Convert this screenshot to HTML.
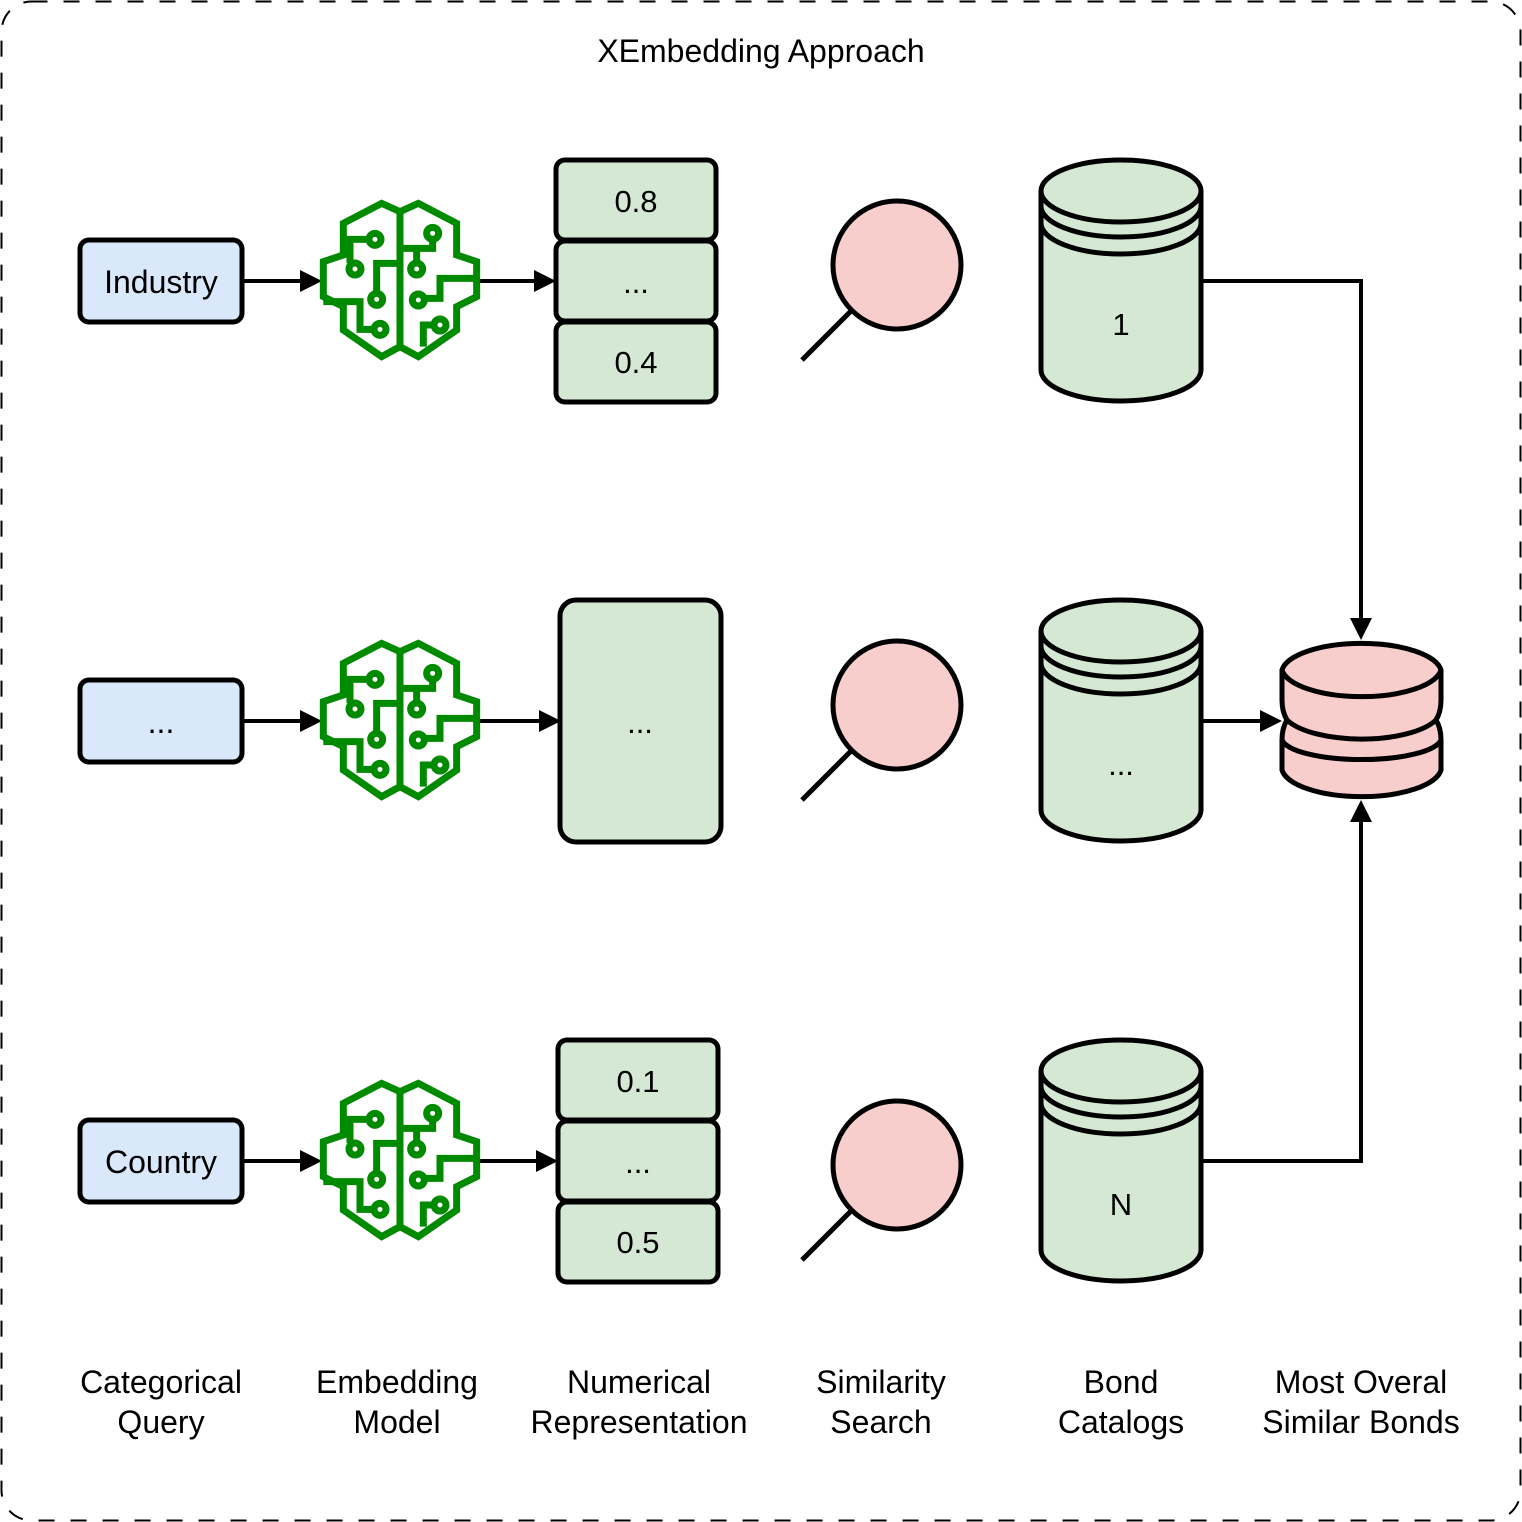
<!DOCTYPE html>
<html><head><style>
html,body{margin:0;padding:0;background:#fff;}
svg{display:block;}
text{font-family:"Liberation Sans",Arial,sans-serif;fill:#000;}
</style></head><body>
<svg width="1522" height="1522" viewBox="0 0 1522 1522" xmlns="http://www.w3.org/2000/svg">
<defs>
<g id="brain" fill="none" stroke="#008a00" stroke-width="21" stroke-linejoin="miter">
<path d="M270,65 L215,40 L100,100 L100,195 L40,215 L40,320 L100,350 L100,420 L215,500 L270,470 L325,500 L440,420 L440,350 L500,320 L500,215 L440,195 L440,100 L325,40 Z"/>
<path d="M270,65 L270,470"/>
<path d="M177,148 L120,148 L120,219"/>
<circle cx="195" cy="148" r="18"/>
<circle cx="135" cy="237" r="18"/>
<path d="M270,220 L200,220 L200,310"/>
<circle cx="200" cy="328" r="18"/>
<path d="M40,335 L150,335 L150,418 L192,418"/>
<circle cx="210" cy="418" r="18"/>
<circle cx="368" cy="130" r="18"/>
<path d="M368,148 L368,175 L270,175"/>
<path d="M320,175 L320,219"/>
<circle cx="320" cy="237" r="18"/>
<path d="M500,265 L390,265 L390,325 L343,325"/>
<circle cx="325" cy="330" r="18"/>
<circle cx="390" cy="405" r="18"/>
<path d="M372,405 L340,405 L340,470"/>
</g>
<g id="cyl">
<path d="M0,31 A80,31 0 0 1 160,31 L160,210 A80,31 0 0 1 0,210 Z" fill="#d5e8d4" stroke="#000" stroke-width="5"/>
<path d="M0,31 A80,31 0 0 0 160,31 M0,46 A80,31 0 0 0 160,46 M0,63 A80,31 0 0 0 160,63" fill="none" stroke="#000" stroke-width="5"/>
</g>
<g id="mag">
<line x1="802" y1="360" x2="852" y2="310" stroke="#000" stroke-width="5"/>
<circle cx="897" cy="265" r="64" fill="#f8cecc" stroke="#000" stroke-width="5"/>
</g>
</defs>

<rect x="1.5" y="1.5" width="1519" height="1519" rx="30" fill="#fff" stroke="#000" stroke-width="2" stroke-dasharray="16,16"/>
<text x="761" y="62" font-size="32" text-anchor="middle">XEmbedding Approach</text>

<g fill="#dae8fc" stroke="#000" stroke-width="5">
<rect x="80" y="240" width="162" height="82" rx="9"/>
<rect x="80" y="680" width="162" height="82" rx="9"/>
<rect x="80" y="1120" width="162" height="82" rx="9"/>
</g>
<g font-size="32" text-anchor="middle">
<text x="161" y="293">Industry</text>
<text x="161" y="733">...</text>
<text x="161" y="1173">Country</text>
</g>

<g stroke="#000" stroke-width="4" fill="none">
<path d="M242,281 H302 M480,281 H537 M242,721 H302 M480,721 H542 M242,1161 H302 M480,1161 H539"/>
<path d="M1202,281 H1361 V622"/>
<path d="M1202,721 H1263"/>
<path d="M1202,1161 H1361 V818"/>
</g>
<g fill="#000">
<path d="M322,281 l-22,-11 v22 z"/>
<path d="M556,281 l-22,-11 v22 z"/>
<path d="M322,721 l-22,-11 v22 z"/>
<path d="M561,721 l-22,-11 v22 z"/>
<path d="M322,1161 l-22,-11 v22 z"/>
<path d="M558,1161 l-22,-11 v22 z"/>
<path d="M1361,640 l-11,-22 h22 z"/>
<path d="M1282,721 l-22,-11 v22 z"/>
<path d="M1361,800 l-11,22 h22 z"/>
</g>

<use href="#brain" transform="translate(310,190) scale(0.3333)"/>
<use href="#brain" transform="translate(310,630) scale(0.3333)"/>
<use href="#brain" transform="translate(310,1070) scale(0.3333)"/>

<g fill="#d5e8d4" stroke="#000" stroke-width="5">
<rect x="556" y="160" width="160" height="80" rx="9"/>
<rect x="556" y="241" width="160" height="80" rx="9"/>
<rect x="556" y="322" width="160" height="80" rx="9"/>
<rect x="560" y="600" width="161" height="242" rx="16"/>
<rect x="558" y="1040" width="160" height="80" rx="9"/>
<rect x="558" y="1121" width="160" height="80" rx="9"/>
<rect x="558" y="1202" width="160" height="80" rx="9"/>
</g>
<g font-size="31" text-anchor="middle">
<text x="636" y="212">0.8</text>
<text x="636" y="293">...</text>
<text x="636" y="373">0.4</text>
<text x="640" y="733">...</text>
<text x="638" y="1092">0.1</text>
<text x="638" y="1173">...</text>
<text x="638" y="1253">0.5</text>
</g>

<use href="#mag"/>
<use href="#mag" transform="translate(0,440)"/>
<use href="#mag" transform="translate(0,900)"/>

<use href="#cyl" transform="translate(1041,160)"/>
<use href="#cyl" transform="translate(1041,600)"/>
<use href="#cyl" transform="translate(1041,1040)"/>
<g font-size="31" text-anchor="middle">
<text x="1121" y="335">1</text>
<text x="1121" y="775">...</text>
<text x="1121" y="1215">N</text>
</g>

<path d="M1282,670 A80,30 0 0 1 1441,670 L1441,700 Q1441,712 1436,720 Q1441,728 1441,740 L1441,770 A80,30 0 0 1 1282,770 L1282,740 Q1282,728 1287,720 Q1282,712 1282,700 Z" fill="#f8cecc" stroke="#000" stroke-width="5"/>
<path d="M1282,670 A80,30 0 0 0 1441,670 M1287,720 A80,30 0 0 0 1436,720 M1282,740 A80,22 0 0 0 1441,740" fill="none" stroke="#000" stroke-width="5"/>

<g font-size="32" text-anchor="middle">
<text x="161" y="1393">Categorical</text><text x="161" y="1433">Query</text>
<text x="397" y="1393">Embedding</text><text x="397" y="1433">Model</text>
<text x="639" y="1393">Numerical</text><text x="639" y="1433">Representation</text>
<text x="881" y="1393">Similarity</text><text x="881" y="1433">Search</text>
<text x="1121" y="1393">Bond</text><text x="1121" y="1433">Catalogs</text>
<text x="1361" y="1393">Most Overal</text><text x="1361" y="1433">Similar Bonds</text>
</g>
</svg>
</body></html>
